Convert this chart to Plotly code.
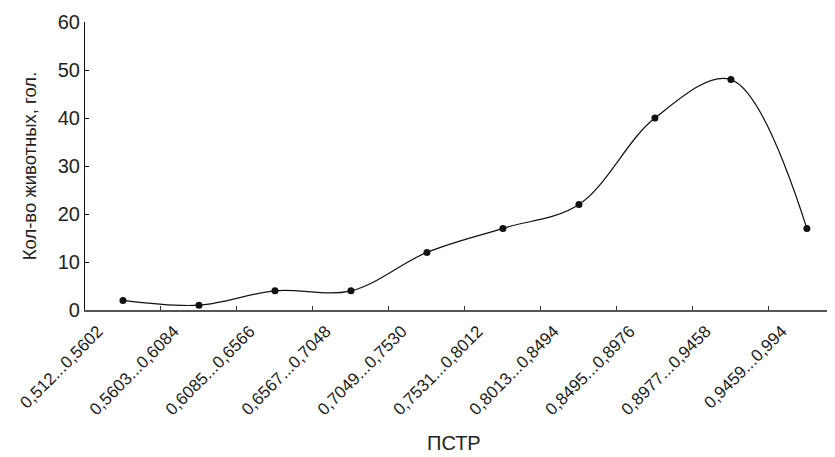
import plotly.graph_objects as go

categories = ["0,512...0,5602", "0,5603...0,6084", "0,6085...0,6566", "0,6567...0,7048",
              "0,7049...0,7530", "0,7531...0,8012", "0,8013...0,8494", "0,8495...0,8976",
              "0,8977...0,9458", "0,9459...0,994"]
values = [2, 1, 4, 4, 12, 17, 22, 40, 48, 17]
y_ticks = [0, 10, 20, 30, 40, 50, 60]

xs = list(range(len(categories)))
font = "Liberation Sans, Arial, sans-serif"

fig = go.Figure(go.Scatter(
    x=xs, y=values, mode="lines+markers",
    line=dict(color="#111111", width=1.2, shape="spline", smoothing=1.0),
    marker=dict(color="#111111", size=7, symbol="circle"),
))

# page body has an 8px default margin, so the figure is offset by 8px
fig.update_layout(
    width=835, height=457,
    margin=dict(l=77, r=8, t=14, b=155, autoexpand=False),
    plot_bgcolor="white", paper_bgcolor="white",
    showlegend=False,
    font=dict(family=font, size=20, color="#222222"),
)
fig.update_xaxes(
    range=[-0.5, 9.37], automargin=False,
    tickmode="array", tickvals=xs, ticktext=categories,
    tickangle=-45, ticks="", showgrid=False, zeroline=False,
    showline=True, linecolor="#555555", linewidth=1.5,
    tickfont=dict(size=17),
    ticklabelshift=-25, ticklabelstandoff=3,
    minor=dict(tickmode="array", tickvals=[i + 0.5 for i in range(len(categories) - 1)],
               ticks="inside", ticklen=4, tickcolor="#333333", showgrid=False),
)
fig.update_yaxes(
    range=[0, 60], automargin=False, tickmode="array", tickvals=y_ticks,
    ticks="inside", ticklen=4, tickcolor="#111111",
    tickfont=dict(size=20),
    showgrid=False, zeroline=False,
    showline=True, linecolor="#111111", linewidth=1.2,
    title=dict(text="Кол-во животных, гол.", font=dict(size=18.5), standoff=16),
)
fig.add_annotation(
    text="ПСТР", xref="paper", yref="paper", x=0.492, y=-0.462,
    xanchor="center", yanchor="middle", showarrow=False,
    font=dict(size=20, family=font, color="#222222"),
)

fig.write_html("out.html")
